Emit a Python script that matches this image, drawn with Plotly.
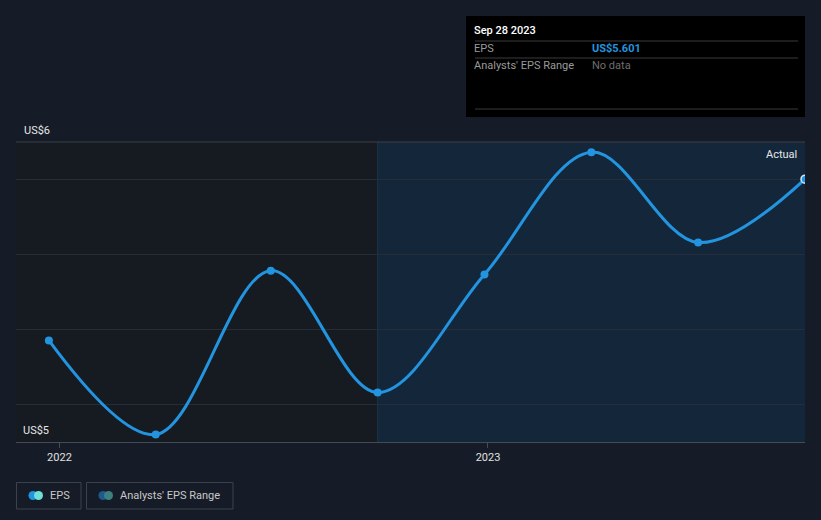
import plotly.graph_objects as go

# ---- data ----
dates = ["2021-12-23", "2022-03-24", "2022-06-30", "2022-09-29",
         "2022-12-29", "2023-03-30", "2023-06-29", "2023-09-28"]
eps = [5.171, 4.920, 5.357, 5.032, 5.347, 5.673, 5.432, 5.601]
forecast_start = "2022-09-29"
x_range = ["2021-11-25", "2023-09-28"]
y_range = [4.9, 5.7]
grid_vals = [5.0, 5.2, 5.4, 5.6]
tick_dates = ["2022-01-01", "2023-01-01"]
tick_text = ["2022", "2023"]
y_labels = ["US$6", "US$5"]

W, H = 821, 520
L, R, T, B = 16, 16, 142, 78
PW, PH = W - L - R, H - T - B

def px(x):
    return (x - L) / PW

def py(y):
    return (H - B - y) / PH

BLUE = "#2394df"
FONT = "Roboto"

fig = go.Figure()

fig.add_trace(go.Scatter(
    x=dates, y=eps, mode="lines+markers",
    line=dict(color=BLUE, width=3, shape="spline", smoothing=1.0),
    marker=dict(color=BLUE, size=8,
                line=dict(color=[BLUE] * (len(eps) - 1) + ["#cfe8fa"], width=[0] * (len(eps) - 1) + [1.5])),
    hoverinfo="skip", showlegend=False,
))

shapes = []
# past region
shapes.append(dict(type="rect", xref="x", yref="paper", x0=x_range[0], x1=forecast_start,
                   y0=0, y1=1, fillcolor="#161a21", line=dict(width=0), layer="below"))
# actual region
shapes.append(dict(type="rect", xref="x", yref="paper", x0=forecast_start, x1=x_range[1],
                   y0=0, y1=1, fillcolor="#14263a", line=dict(width=0), layer="below"))
shapes.append(dict(type="line", xref="x", yref="paper", x0=forecast_start, x1=forecast_start,
                   y0=0, y1=1, line=dict(color="#1d3449", width=1), layer="below"))
# top border line
shapes.append(dict(type="line", xref="paper", yref="paper", x0=0, x1=1, y0=1, y1=1,
                   line=dict(color="#3a4049", width=1), layer="below"))

# tooltip box
shapes.append(dict(type="rect", xref="paper", yref="paper", x0=px(466), x1=px(805), y0=py(117), y1=py(16),
                   fillcolor="#000000", line=dict(color="#000000", width=0)))
for yy in [41, 58, 109]:
    shapes.append(dict(type="line", xref="paper", yref="paper", x0=px(475), x1=px(798), y0=py(yy), y1=py(yy),
                       line=dict(color="#3a3a3a", width=1)))

# legend boxes
shapes.append(dict(type="rect", xref="paper", yref="paper", x0=px(16.5), x1=px(81), y0=py(509), y1=py(482.5),
                   fillcolor="rgba(0,0,0,0)", line=dict(color="#3c424b", width=1)))
shapes.append(dict(type="rect", xref="paper", yref="paper", x0=px(86.5), x1=px(233), y0=py(509), y1=py(482.5),
                   fillcolor="rgba(0,0,0,0)", line=dict(color="#3c424b", width=1)))
def circle(cx, cy, r, color):
    return dict(type="circle", xref="paper", yref="paper", x0=px(cx - r), x1=px(cx + r),
                y0=py(cy + r), y1=py(cy - r), fillcolor=color, line=dict(width=0))
shapes.append(circle(33, 495.5, 4.5, BLUE))
shapes.append(circle(38.5, 495.5, 4.5, "#6de0d8"))
shapes.append(circle(103, 495.5, 4.5, "#1f5a8c"))
shapes.append(circle(108.5, 495.5, 4.5, "#3d8080"))

annotations = []
def text(x, y, s, color, size=11, anchor="left", bold=False, weight=None):
    f = dict(family=FONT, size=size, color=color)
    if weight:
        f["weight"] = weight
    annotations.append(dict(xref="paper", yref="paper", x=px(x), y=py(y), text=("<b>%s</b>" % s) if bold else s,
                            showarrow=False, xanchor=anchor, yanchor="middle", font=f))

text(22, 130, y_labels[0], "#e6e6e6", 11)
text(21, 430, y_labels[1], "#e6e6e6", 11)
text(799, 154, "Actual", "#e6e6e6", 11, anchor="right")

text(472, 31, "Sep 28 2023", "#ffffff", 11, weight=500)
text(472, 49, "EPS", "#9a9a9a", 11)
text(590, 49, "US$5.601", BLUE, 11, bold=True)
text(472, 66, "Analysts' EPS Range", "#9a9a9a", 11)
text(590, 66, "No data", "#6e6e6e", 11)

text(48, 495.5, "EPS", "#c8c8c8", 11)
text(118, 495.5, "Analysts' EPS Range", "#c8c8c8", 11)

fig.update_layout(
    width=W, height=H,
    margin=dict(l=L, r=R, t=T, b=B),
    paper_bgcolor="#161c27", plot_bgcolor="#161c27",
    font=dict(family=FONT, color="#e6e6e6"),
    shapes=shapes, annotations=annotations,
    xaxis=dict(range=x_range, type="date", tickvals=tick_dates, ticktext=tick_text,
               showgrid=False, zeroline=False, showline=True, linecolor="#454b55", linewidth=1,
               ticks="outside", ticklen=5, tickcolor="#454b55",
               tickfont=dict(family=FONT, size=11, color="#e0e0e0")),
    yaxis=dict(range=y_range, tickvals=grid_vals, showticklabels=False,
               showgrid=True, gridcolor="#262d38", gridwidth=1, zeroline=False, showline=False),
    hovermode=False,
)

fig.write_html("out.html", config={"displayModeBar": False},
               post_script="document.body.style.margin='0';document.body.style.background='#161c27';")
